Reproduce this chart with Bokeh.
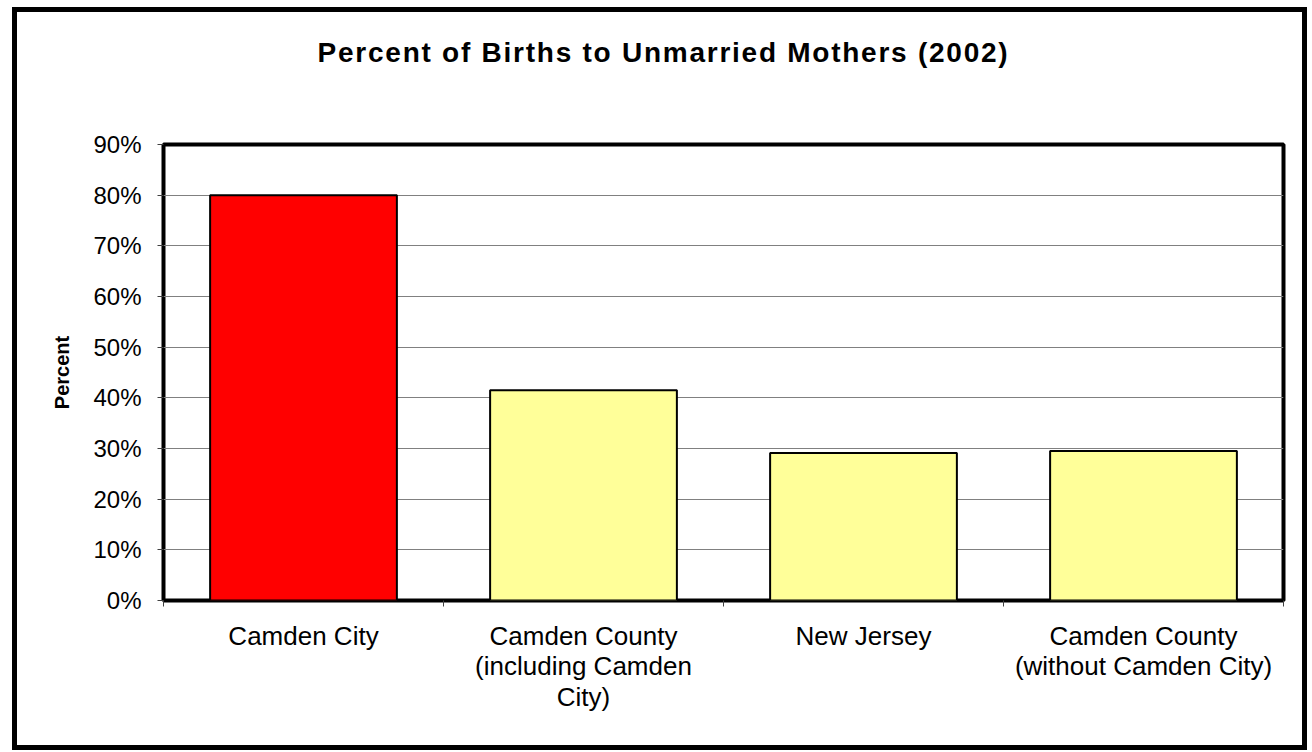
from bokeh.plotting import figure
from bokeh.models import FixedTicker, NumeralTickFormatter, Range1d, Div
from bokeh.layouts import column
from bokeh.embed import file_html
from bokeh.resources import INLINE

title_text = "Percent of Births to Unmarried Mothers (2002)"
categories = ["Camden City", "Camden County\n(including Camden\nCity)", "New Jersey",
              "Camden County\n(without Camden City)"]
values = [0.80, 0.415, 0.291, 0.295]
colors = ["#FF0000", "#FFFF99", "#FFFF99", "#FFFF99"]
y_ticks = [0.0, 0.1, 0.2, 0.3, 0.4, 0.5, 0.6, 0.7, 0.8, 0.9]

xs = [i + 0.5 for i in range(len(categories))]

W, H = 1285, 733
TH = 100
title = Div(
    text=('<div style="width:%dpx;height:%dpx;box-sizing:border-box;padding-top:27px;'
          'padding-left:8px;line-height:28px;text-align:center;font-family:\'Liberation Sans\';'
          'font-size:28px;font-weight:bold;letter-spacing:1.75px;color:black;">%s</div>')
         % (W, TH, title_text),
    width=W, height=TH, margin=0)

p = figure(width=W, height=H - TH, output_backend="svg", toolbar_location=None,
           x_range=Range1d(0, len(categories)), y_range=Range1d(0, 0.9),
           min_border_left=146, min_border_right=19, min_border_top=132 - TH,
           min_border_bottom=145, margin=0)

p.vbar(x=xs, top=values, width=0.667, fill_color=colors, line_color="black", line_width=2)

p.outline_line_color = "black"
p.outline_line_width = 4
p.xgrid.grid_line_color = None
p.ygrid.grid_line_color = "#808080"
p.ygrid.grid_line_width = 1
p.ygrid.ticker = FixedTicker(ticks=y_ticks)

ya = p.yaxis[0]
ya.ticker = FixedTicker(ticks=y_ticks)
ya.formatter = NumeralTickFormatter(format="0%")
ya.axis_line_color = None
ya.major_tick_out = 6
ya.major_tick_in = 0
ya.major_tick_line_color = "#404040"
ya.minor_tick_line_color = None
ya.major_label_text_font = "Liberation Sans"
ya.major_label_text_font_size = "24px"
ya.major_label_text_color = "black"
ya.major_label_standoff = 16
ya.axis_label = "Percent"
ya.axis_label_text_font = "Liberation Sans"
ya.axis_label_text_font_size = "20px"
ya.axis_label_text_font_style = "bold"
ya.axis_label_text_color = "black"
ya.axis_label_standoff = 17

xa = p.xaxis[0]
xa.ticker = FixedTicker(ticks=xs, minor_ticks=[0, 1, 2, 3, 4])
xa.major_label_overrides = {x: c for x, c in zip(xs, categories)}
xa.axis_line_color = None
xa.major_tick_line_color = None
xa.minor_tick_out = 6
xa.minor_tick_in = 0
xa.minor_tick_line_color = "#404040"
xa.major_label_text_font = "Liberation Sans"
xa.major_label_text_font_size = "26px"
xa.major_label_text_line_height = 1.033
xa.major_label_text_color = "black"
xa.major_label_standoff = 14

layout = column(title, p, spacing=0)
layout.styles = {"border": "5px solid black", "margin-left": "12px", "margin-top": "7px",
                 "background-color": "white"}

open("out.html", "w").write(file_html(layout, INLINE))
